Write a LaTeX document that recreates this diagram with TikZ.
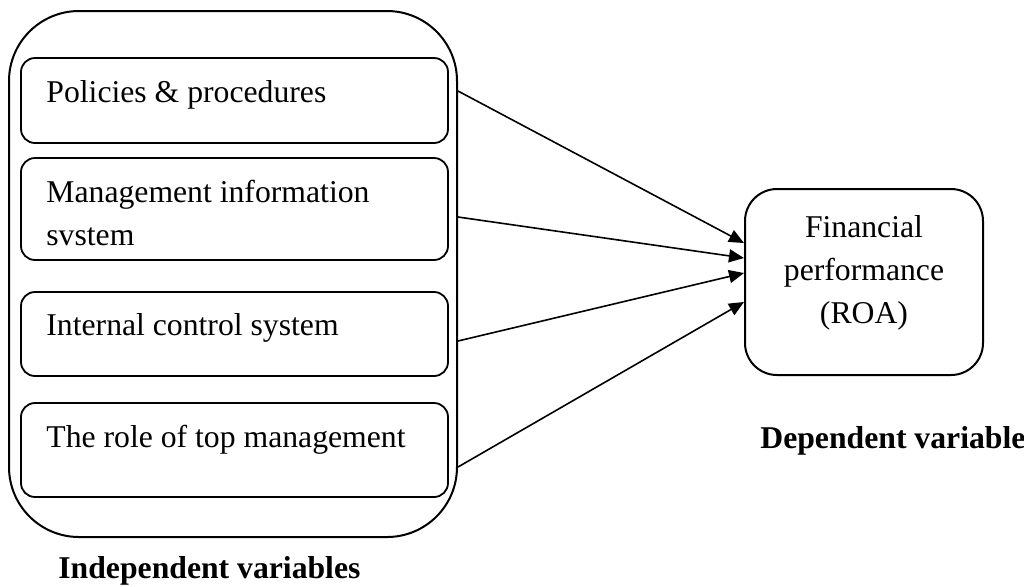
\documentclass[tikz,border=0pt]{standalone}
\usepackage{fontspec}
\setmainfont{Liberation Serif}
\usetikzlibrary{arrows.meta,calc}

\begin{document}
\begin{tikzpicture}[x=0.5pt,y=-0.5pt,
  outerbox/.style={draw,line width=1pt,rounded corners=35pt,
    minimum width=224pt,minimum height=263pt,inner sep=0pt},
  varbox/.style={draw,line width=0.9pt,rounded corners=7pt,
    minimum width=213.5pt,inner sep=0pt},
  depbox/.style={draw,line width=1pt,rounded corners=16pt,
    minimum width=119pt,minimum height=93pt,inner sep=0pt},
  lbl/.style={inner sep=0pt,font=\fontsize{15.85}{21.5}\selectfont},
  title/.style={inner sep=0pt,font=\fontsize{15.85}{21.5}\selectfont\bfseries},
  link/.style={line width=0.8pt,-{Triangle[length=7.5pt,width=6.5pt]}}]

\useasboundingbox (0,0) rectangle (1024,586);

% container of the independent variables
\node[outerbox] (outer) at (233,274) {};

% the four independent variables
\node[varbox,minimum height=42.5pt] (b1) at (234.5,100.5) {};
\node[varbox,minimum height=51pt]   (b2) at (234.5,209) {};
\node[varbox,minimum height=42pt]   (b3) at (234.5,334) {};
\node[varbox,minimum height=47pt]   (b4) at (234.5,450) {};

\node[lbl,anchor=base west] (t1) at (46,102) {Policies \& procedures};
\node[lbl,anchor=base west,align=left] (t2) at (46,245) {Management information\\svstem};
\node[lbl,anchor=base west] (t3) at (46,335) {Internal control system};
\node[lbl,anchor=base west] (t4) at (46,447) {The role of top management};

\node[title,anchor=base west] (indep) at (58,578) {Independent variables};

% dependent variable
\node[depbox] (fin) at (864,282) {};
\node[lbl,align=center] (fint) at (864,273) {Financial\\performance\\(ROA)};
\node[title,anchor=base west] (dep) at (760,448) {Dependent variable};

% connectors
\coordinate (s1) at ($(outer.east)+(0,-183)$);
\coordinate (s2) at ($(outer.east)+(0,-57)$);
\coordinate (s3) at ($(outer.east)+(0,67)$);
\coordinate (s4) at ($(outer.east)+(0,193)$);
\coordinate (e1) at ($(fin.west)+(0,-39)$);
\coordinate (e2) at ($(fin.west)+(0,-24)$);
\coordinate (e3) at ($(fin.west)+(0,-9)$);
\coordinate (e4) at ($(fin.west)+(0,20)$);
\draw[link] (s1) -- (e1);
\draw[link] (s2) -- (e2);
\draw[link] (s3) -- (e3);
\draw[link] (s4) -- (e4);
\end{tikzpicture}
\end{document}
